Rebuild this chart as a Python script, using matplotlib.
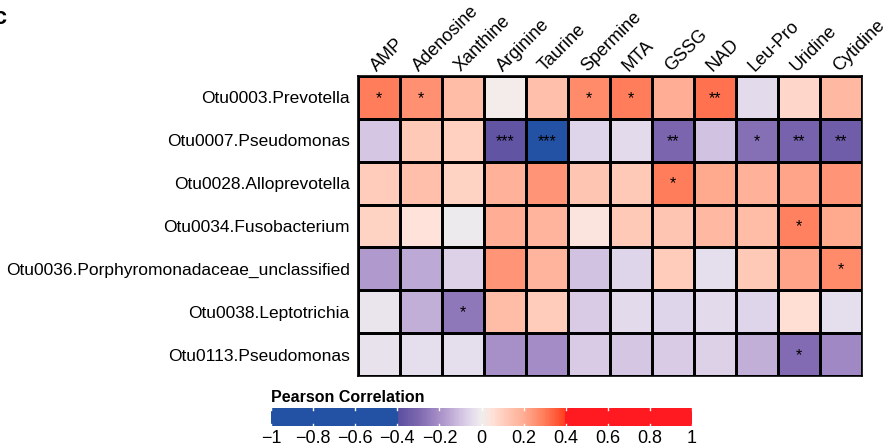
import numpy as np
import matplotlib
matplotlib.use("Agg")
import matplotlib.pyplot as plt
from matplotlib.colors import LinearSegmentedColormap, Normalize

plt.rcParams['font.family'] = ['Liberation Sans', 'DejaVu Sans']

metabolites = ["AMP", "Adenosine", "Xanthine", "Arginine", "Taurine", "Spermine",
               "MTA", "GSSG", "NAD", "Leu-Pro", "Uridine", "Cytidine"]
otus = ["Otu0003.Prevotella", "Otu0007.Pseudomonas", "Otu0028.Alloprevotella",
        "Otu0034.Fusobacterium", "Otu0036.Porphyromonadaceae_unclassified",
        "Otu0038.Leptotrichia", "Otu0113.Pseudomonas"]

r_prevotella = [0.30, 0.26, 0.16, 0.01, 0.15, 0.27, 0.30, 0.20, 0.32, -0.05, 0.08, 0.17]
r_pseudo7 = [-0.09, 0.12, 0.10, -0.38, -0.50, -0.06, -0.05, -0.31, -0.10, -0.28, -0.32, -0.34]
r_allo = [0.11, 0.15, 0.09, 0.19, 0.25, 0.13, 0.12, 0.30, 0.21, 0.19, 0.22, 0.25]
r_fuso = [0.09, 0.05, -0.01, 0.20, 0.18, 0.04, 0.12, 0.13, 0.17, 0.16, 0.29, 0.21]
r_porph = [-0.18, -0.15, -0.07, 0.25, 0.18, -0.10, -0.06, 0.11, -0.04, 0.12, 0.22, 0.27]
r_lepto = [-0.02, -0.14, -0.26, 0.16, 0.11, -0.08, -0.05, -0.06, -0.05, -0.06, 0.06, -0.04]
r_pseudo113 = [-0.03, -0.04, -0.04, -0.20, -0.21, -0.08, -0.09, -0.08, -0.07, -0.14, -0.29, -0.22]

s_prevotella = ["*", "*", "", "", "", "*", "*", "", "**", "", "", ""]
s_pseudo7 = ["", "", "", "***", "***", "", "", "**", "", "*", "**", "**"]
s_allo = ["", "", "", "", "", "", "", "*", "", "", "", ""]
s_fuso = ["", "", "", "", "", "", "", "", "", "", "*", ""]
s_porph = ["", "", "", "", "", "", "", "", "", "", "", "*"]
s_lepto = ["", "", "*", "", "", "", "", "", "", "", "", ""]
s_pseudo113 = ["", "", "", "", "", "", "", "", "", "", "*", ""]

cbar_ticks = [-1, -0.8, -0.6, -0.4, -0.2, 0, 0.2, 0.4, 0.6, 0.8, 1]

values = np.array([r_prevotella, r_pseudo7, r_allo, r_fuso, r_porph, r_lepto, r_pseudo113])
stars = [s_prevotella, s_pseudo7, s_allo, s_fuso, s_porph, s_lepto, s_pseudo113]

cmap = LinearSegmentedColormap.from_list("pc", [
    (0.0, "#2352A5"), (0.2999, "#2352A5"),
    (0.30, "#5A4FA0"), (0.35, "#7E68B0"), (0.40, "#A890C8"), (0.45, "#D2C2E2"),
    (0.475, "#E3DAEC"), (0.50, "#F0EEEE"),
    (0.525, "#FFE2DA"), (0.55, "#FFD0C0"), (0.60, "#FFAE95"), (0.65, "#FF7D5A"),
    (0.6999, "#FF3E1E"), (0.70, "#FF1A22"), (1.0, "#FF1A22")], N=512)
norm = Normalize(vmin=-1, vmax=1)

fig = plt.figure(figsize=(8.93, 4.48), dpi=100)
ax = fig.add_axes([358/893, 1-376/448, 504/893, 300/448])
nr, nc = values.shape
ax.pcolormesh(np.arange(nc+1), np.arange(nr+1), values, cmap=cmap, norm=norm,
              edgecolor="black", linewidth=1.0)
ax.set_xlim(0, nc)
ax.set_ylim(nr, 0)
for i in range(nr):
    for j in range(nc):
        if stars[i][j]:
            ax.text(j+0.5, i+0.52, stars[i][j], ha="center", va="center", fontsize=11.5, color="black")
ax.set_xticks([])
ax.set_yticks(np.arange(nr)+0.5)
ax.set_yticklabels(otus, fontsize=12.5)
ax.tick_params(axis="y", length=0, pad=6)
for sp in ax.spines.values():
    sp.set_linewidth(1.2)
for j, m in enumerate(metabolites):
    ax.text(j+0.45, -0.1, m, rotation=45, ha="left", va="baseline",
            rotation_mode="anchor", fontsize=13)

cax = fig.add_axes([271/893, 1-426/448, 421/893, 18/448])
grad = np.linspace(-1, 1, 421).reshape(1, -1)
cax.imshow(grad, aspect="auto", cmap=cmap, norm=norm, extent=[-1, 1, 0, 1])
cax.set_xlim(-1, 1)
cax.set_yticks([])
cax.set_xticks(cbar_ticks)
cax.set_xticklabels(["\u22121" if t == -1 else ("1" if t == 1 else ("0" if t == 0 else ("\u2212" if t < 0 else "") + f"{abs(t):.1f}")) for t in cbar_ticks], fontsize=13)
cax.tick_params(axis="x", length=0, pad=3)
for t in cbar_ticks:
    cax.plot([t, t], [0, 0.12], color="white", lw=1)
    cax.plot([t, t], [0.88, 1], color="white", lw=1)
for sp in cax.spines.values():
    sp.set_visible(False)
fig.text(271/893, 1-398/448, "Pearson Correlation", fontsize=11.5, fontweight="bold",
         ha="left", va="center")
fig.text(-0.008, 1-18/448, "c", fontsize=17, fontweight="bold", ha="left", va="center")

fig.savefig("out.png", dpi=100)
